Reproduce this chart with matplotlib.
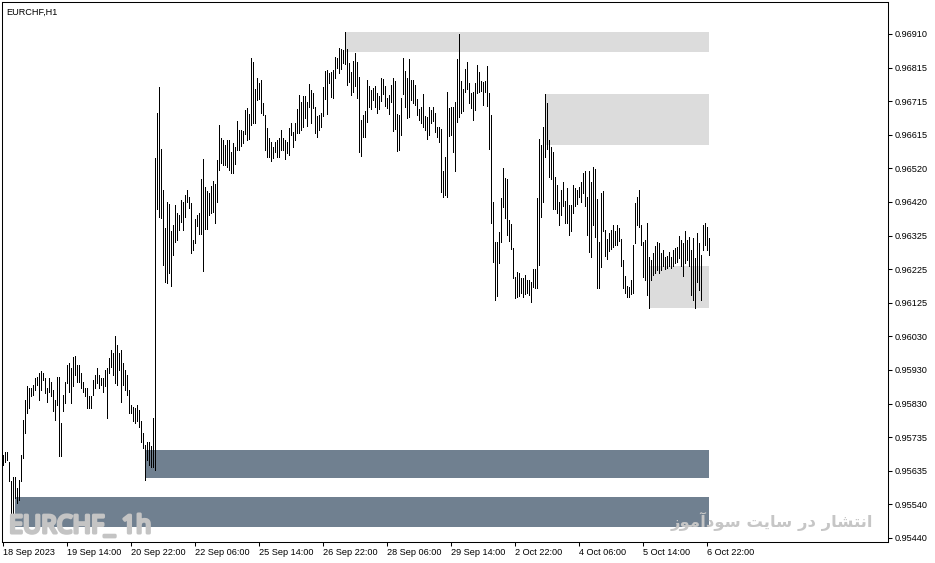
#!/usr/bin/env python3

import matplotlib
matplotlib.use("Agg")
import matplotlib.pyplot as plt
import matplotlib.patheffects as pe
from matplotlib.patches import Rectangle
import numpy as np


# hourly bars, prices in points (price * 1e5)
HIGHS = [
    95682, 95692, 95692, 95663, 95605, 95619, 95619, 95585, 95610, 95682,
    95785, 95843, 95882, 95877, 95877, 95887, 95906, 95911, 95921, 95926,
    95921, 95906, 95877, 95906, 95896, 95872, 95843, 95911, 95911, 95775,
    95857, 95896, 95945, 95950, 95935, 95969, 95971, 95945, 95945, 95921,
    95896, 95877, 95877, 95853, 95853, 95901, 95916, 95935, 95916, 95906,
    95906, 95930, 95935, 95964, 95989, 95979, 96028, 96003, 95979, 95989,
    95950, 95930, 95916, 95872, 95828, 95823, 95819, 95828, 95814, 95780,
    95746, 95712, 95721, 95721, 95707, 95789, 96547, 96680, 96756, 96576,
    96455, 96343, 96421, 96414, 96336, 96353, 96411, 96387, 96382, 96426,
    96421, 96440, 96455, 96434, 96416, 96309, 96369, 96382, 96389, 96487,
    96545, 96465, 96452, 96445, 96467, 96482, 96472, 96542, 96644, 96608,
    96601, 96586, 96601, 96601, 96567, 96591, 96579, 96656, 96630, 96630,
    96628, 96688, 96693, 96678, 96840, 96828, 96751, 96781, 96768, 96776,
    96710, 96674, 96635, 96606, 96596, 96581, 96596, 96601, 96606, 96630,
    96606, 96601, 96596, 96635, 96649, 96625, 96649, 96690, 96732, 96712,
    96729, 96729, 96712, 96764, 96747, 96739, 96698, 96671, 96674, 96680,
    96754, 96802, 96805, 96797, 96800, 96805, 96842, 96839, 96868, 96865,
    96864, 96916, 96865, 96825, 96800, 96832, 96856, 96829, 96786, 96659,
    96674, 96684, 96776, 96759, 96747, 96752, 96757, 96737, 96729, 96781,
    96778, 96757, 96723, 96732, 96761, 96781, 96774, 96677, 96674, 96723,
    96839, 96803, 96781, 96836, 96776, 96776, 96761, 96720, 96690, 96696,
    96735, 96671, 96669, 96696, 96687, 96696, 96681, 96640, 96638, 96632,
    96509, 96550, 96742, 96693, 96696, 96696, 96713, 96836, 96910, 96774,
    96749, 96807, 96827, 96768, 96739, 96742, 96768, 96820, 96800, 96774,
    96771, 96773, 96818, 96737, 96674, 96421, 96304, 96304, 96333, 96431,
    96518, 96489, 96487, 96367, 96355, 96285, 96202, 96217, 96212, 96199,
    96197, 96207, 96192, 96192, 96188, 96226, 96226, 96431, 96605, 96586,
    96639, 96734, 96708, 96601, 96581, 96567, 96494, 96469, 96419, 96455,
    96477, 96424, 96462, 96412, 96412, 96470, 96460, 96455, 96463, 96477,
    96506, 96509, 96434, 96509, 96477, 96523, 96517, 96428, 96302, 96446,
    96453, 96339, 96312, 96331, 96337, 96353, 96334, 96353, 96344, 96312,
    96251, 96205, 96175, 96173, 96193, 96295, 96418, 96436, 96455, 96353,
    96304, 96309, 96358, 96261, 96251, 96270, 96292, 96302, 96300, 96270,
    96280, 96261, 96263, 96275, 96259, 96280, 96285, 96290, 96321, 96309,
    96300, 96334, 96309, 96319, 96280, 96314, 96256, 96331, 96300, 96266,
    96353, 96358, 96348, 96314,
]

LOWS = [
    95653, 95663, 95668, 95605, 95498, 95503, 95556, 95542, 95551, 95605,
    95673, 95746, 95804, 95819, 95853, 95857, 95872, 95887, 95843, 95872,
    95901, 95862, 95838, 95867, 95853, 95809, 95785, 95828, 95678, 95678,
    95809, 95833, 95891, 95867, 95833, 95882, 95916, 95896, 95896, 95877,
    95867, 95853, 95819, 95819, 95819, 95857, 95877, 95891, 95877, 95887,
    95867, 95882, 95789, 95921, 95940, 95916, 95891, 95887, 95930, 95838,
    95887, 95872, 95857, 95804, 95804, 95780, 95775, 95780, 95765, 95721,
    95702, 95610, 95668, 95653, 95648, 95648, 95639, 96401, 96377, 96372,
    96236, 96188, 96185, 96212, 96175, 96265, 96304, 96309, 96338, 96363,
    96338, 96377, 96421, 96403, 96272, 96280, 96299, 96350, 96327, 96327,
    96220, 96341, 96340, 96382, 96387, 96392, 96360, 96421, 96513, 96535,
    96528, 96528, 96523, 96513, 96505, 96505, 96530, 96573, 96572, 96583,
    96591, 96618, 96601, 96603, 96646, 96649, 96649, 96717, 96719, 96680,
    96674, 96572, 96552, 96550, 96540, 96547, 96567, 96550, 96552, 96572,
    96572, 96545, 96562, 96557, 96615, 96579, 96601, 96620, 96622, 96630,
    96640, 96664, 96642, 96698, 96651, 96693, 96620, 96610, 96630, 96640,
    96671, 96719, 96678, 96766, 96727, 96723, 96781, 96810, 96795, 96807,
    96825, 96823, 96761, 96771, 96732, 96742, 96757, 96723, 96567, 96554,
    96609, 96609, 96652, 96696, 96690, 96718, 96696, 96681, 96690, 96716,
    96735, 96700, 96693, 96677, 96713, 96628, 96632, 96570, 96572, 96616,
    96735, 96696, 96664, 96669, 96718, 96708, 96703, 96674, 96659, 96650,
    96638, 96630, 96603, 96616, 96650, 96655, 96625, 96609, 96596, 96448,
    96436, 96441, 96434, 96613, 96616, 96567, 96509, 96652, 96669, 96681,
    96684, 96742, 96749, 96708, 96693, 96659, 96689, 96739, 96742, 96745,
    96703, 96742, 96700, 96576, 96358, 96246, 96134, 96147, 96241, 96304,
    96406, 96372, 96324, 96306, 96283, 96197, 96139, 96144, 96147, 96154,
    96144, 96151, 96154, 96149, 96129, 96173, 96168, 96168, 96236, 96377,
    96421, 96552, 96576, 96494, 96487, 96401, 96401, 96387, 96353, 96382,
    96407, 96358, 96360, 96324, 96334, 96389, 96409, 96415, 96436, 96421,
    96446, 96407, 96324, 96273, 96261, 96353, 96317, 96169, 96169, 96230,
    96334, 96263, 96253, 96278, 96282, 96288, 96295, 96295, 96305, 96234,
    96169, 96154, 96144, 96142, 96152, 96154, 96300, 96353, 96348, 96295,
    96202, 96193, 96149, 96110, 96193, 96207, 96214, 96222, 96214, 96222,
    96232, 96224, 96227, 96232, 96227, 96232, 96241, 96246, 96256, 96232,
    96204, 96241, 96251, 96232, 96149, 96134, 96110, 96188, 96164, 96134,
    96280, 96295, 96280, 96266,
]

X_LABELS = [
    "18 Sep 2023", "19 Sep 14:00", "20 Sep 22:00", "22 Sep 06:00",
    "25 Sep 14:00", "26 Sep 22:00", "28 Sep 06:00", "29 Sep 14:00",
    "2 Oct 22:00", "4 Oct 06:00", "5 Oct 14:00", "6 Oct 22:00",
]
BARS_PER_LABEL = 32

# bottom to top
Y_LABELS = [
    "0.95440", "0.95540", "0.95635", "0.95735", "0.95830", "0.95930",
    "0.96030", "0.96125", "0.96225", "0.96325", "0.96420", "0.96520",
    "0.96615", "0.96715", "0.96815", "0.96910",
]

# supply / demand zones: start bar, end bar, top, bottom (points)
ZONE_START = [171, 271, 323, 71, 6]
ZONE_END = [353, 353, 353, 353, 353]
ZONE_TOP = [96916, 96735, 96233, 95697, 95560]
ZONE_BOTTOM = [96858, 96586, 96111, 95615, 95473]
ZONE_KIND = ["supply", "supply", "supply", "demand", "demand"]

W, H = 935, 563
TICK_FONT = "Liberation Sans"
MARK_GREY = "#c4c4c4"


def px_x(x):
    return x / W


def px_y(y):
    return 1 - y / H


def persian_promo():
    # pre-shaped presentation forms, logical order, reversed for display
    words = [
        "\uFE8D\uFEE7\uFE98\uFEB8\uFE8E\uFEAD",
        "\uFEA9\uFEAD",
        "\uFEB3\uFE8E\uFEF3\uFE96",
        "\uFEB3\uFEEE\uFEA9\uFE81\uFEE3\uFEEE\uFEAF",
    ]
    return " ".join(words)[::-1]


def plot():
    fig = plt.figure(figsize=(W / 100, H / 100), dpi=100)
    ax = fig.add_axes([px_x(2), 21 / H, 886 / W, 540 / H])

    highs = np.array(HIGHS) / 1e5
    lows = np.array(LOWS) / 1e5
    idx = np.arange(len(highs))

    colors = {"supply": "#dcdcdc", "demand": "#708090"}
    for s, e, t, b, k in zip(ZONE_START, ZONE_END, ZONE_TOP, ZONE_BOTTOM, ZONE_KIND):
        ax.add_patch(
            Rectangle((s, b / 1e5), e - s, (t - b) / 1e5,
                      facecolor=colors[k], edgecolor="none", zorder=1)
        )

    ax.vlines(idx, lows, highs, color="black", linewidth=0.5,
              antialiased=False, zorder=3)

    ax.set_xlim(-0.65, 442.35)
    ax.set_ylim(0.954283, 0.970033)

    ax.set_xticks(np.arange(len(X_LABELS)) * BARS_PER_LABEL)
    ax.set_xticklabels(X_LABELS, fontsize=6.6, family=TICK_FONT)
    for lab in ax.get_xticklabels():
        lab.set_horizontalalignment("left")

    ax.yaxis.tick_right()
    ax.set_yticks(np.linspace(0.95440, 0.96910, len(Y_LABELS)))
    ax.set_yticklabels(Y_LABELS, fontsize=6.6, family=TICK_FONT)

    ax.tick_params(axis="x", direction="out", length=3, width=0.75, pad=1.5)
    ax.tick_params(axis="y", direction="out", length=3, width=0.75, pad=2)
    for sp in ax.spines.values():
        sp.set_linewidth(0.75)
        sp.set_color("black")

    fig.text(px_x(6), px_y(12), "EURCHF,H1", fontsize=6.6, family=TICK_FONT,
             va="center", ha="left")

    # heavy condensed watermark: condensed face thickened with a stroke
    fig.text(px_x(9), px_y(533), "EURCHF_ 1h", fontsize=18,
             family="Noto Sans", fontstretch="extra-condensed",
             color=MARK_GREY, va="baseline", ha="left", zorder=5,
             path_effects=[pe.withStroke(linewidth=2.2, foreground=MARK_GREY)])
    fig.text(px_x(873), px_y(521), persian_promo(), fontsize=11.8,
             family="DejaVu Sans", weight="bold", color="#c6c6c6",
             va="center", ha="right", zorder=5)

    return fig


def main():
    fig = plot()
    fig.savefig("out.png", dpi=100)


if __name__ == "__main__":
    main()
